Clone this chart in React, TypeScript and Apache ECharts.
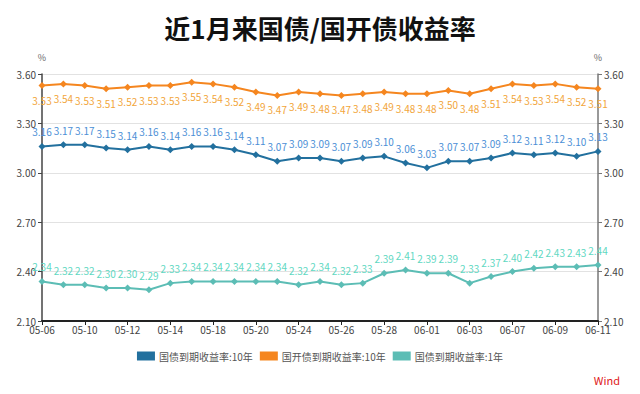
import React, { useEffect, useRef } from "react";
import * as echarts from "echarts";

const dates = [
  "05-06", "05-08", "05-10", "05-11", "05-12", "05-13", "05-14", "05-17", "05-18",
  "05-19", "05-20", "05-21", "05-24", "05-25", "05-26", "05-27", "05-28", "05-31",
  "06-01", "06-02", "06-03", "06-06", "06-07", "06-08", "06-09", "06-10", "06-11",
];
const gov10 = [3.16, 3.17, 3.17, 3.15, 3.14, 3.16, 3.14, 3.16, 3.16, 3.14, 3.11, 3.07, 3.09, 3.09, 3.07, 3.09, 3.10, 3.06, 3.03, 3.07, 3.07, 3.09, 3.12, 3.11, 3.12, 3.10, 3.13];
const cdb10 = [3.53, 3.54, 3.53, 3.51, 3.52, 3.53, 3.53, 3.55, 3.54, 3.52, 3.49, 3.47, 3.49, 3.48, 3.47, 3.48, 3.49, 3.48, 3.48, 3.50, 3.48, 3.51, 3.54, 3.53, 3.54, 3.52, 3.51];
const gov1 = [2.34, 2.32, 2.32, 2.30, 2.30, 2.29, 2.33, 2.34, 2.34, 2.34, 2.34, 2.34, 2.32, 2.34, 2.32, 2.33, 2.39, 2.41, 2.39, 2.39, 2.33, 2.37, 2.40, 2.42, 2.43, 2.43, 2.44];
const seriesNames = ["国债到期收益率:10年", "国开债到期收益率:10年", "国债到期收益率:1年"];

const FONT = "'Noto Sans CJK SC', 'Noto Sans', sans-serif";

export default function App() {
  const ref = useRef<HTMLDivElement>(null);
  useEffect(() => {
    document.body.style.margin = "0";
    if (!ref.current) return;
    const chart = echarts.init(ref.current, undefined, { renderer: "svg" });
    const yAxisCommon = (pos: "left" | "right") => ({
      type: "value",
      position: pos,
      min: 2.1,
      max: 3.6,
      interval: 0.3,
      name: "%",
      nameGap: 12,
      nameTextStyle: { color: "#666", fontSize: 9, fontFamily: FONT, align: "center" },
      axisLine: { show: true, lineStyle: { color: pos === "left" ? "#444" : "#777", width: 1.5 } },
      axisTick: { show: true, length: 4, lineStyle: { color: pos === "left" ? "#444" : "#777" } },
      axisLabel: {
        color: "#444",
        fontSize: 10,
        fontFamily: FONT,
        margin: 6,
        formatter: (v: number) => v.toFixed(2),
      },
      splitLine: { show: pos === "left", lineStyle: { color: "#e2e2e2", width: 1 } },
    });
    const mk = (name: string, data: number[], color: string, labelColor: string, pos: string) => ({
      name,
      type: "line",
      data,
      yAxisIndex: 0,
      symbol: "diamond",
      symbolSize: 7,
      lineStyle: { color, width: 2 },
      itemStyle: { color },
      label: {
        show: true,
        position: pos,
        distance: 6,
        color: labelColor,
        fontSize: 10,
        fontFamily: FONT,
        formatter: (p: any) => Number(p.value).toFixed(2),
      },
    });
    chart.setOption({
      animation: false,
      backgroundColor: "#fff",
      title: {
        text: "近1月来国债/国开债收益率",
        left: "center",
        top: 9,
        textStyle: { fontSize: 26, fontWeight: "bold", color: "#111", fontFamily: FONT },
      },
      grid: { left: 42, right: 42, top: 74, bottom: 73, containLabel: false },
      legend: {
        data: seriesNames,
        top: 346,
        left: "center",
        icon: "rect",
        itemWidth: 18,
        itemHeight: 9,
        itemGap: 7,
        textStyle: { color: "#555", fontSize: 10, fontFamily: FONT, padding: [0, 0, 0, -1] },
      },
      xAxis: {
        type: "category",
        data: dates,
        boundaryGap: false,
        axisLine: { lineStyle: { color: "#222", width: 2 } },
        axisTick: { show: true, interval: 1, length: 4, lineStyle: { color: "#222" } },
        axisLabel: { interval: 1, color: "#444", fontSize: 10, fontFamily: FONT, margin: 3 },
        splitLine: { show: false },
      },
      yAxis: [yAxisCommon("left"), yAxisCommon("right")],
      graphic: [
        {
          type: "text",
          right: 20,
          top: 374,
          style: { text: "Wind", fill: "#e02020", fontSize: 11, fontFamily: FONT },
        },
      ],
      series: [
        mk(seriesNames[0], gov10, "#22709e", "#4c8fd6", "top"),
        mk(seriesNames[1], cdb10, "#f5861f", "#f2a53a", "bottom"),
        mk(seriesNames[2], gov1, "#5cbdb5", "#5fd8c2", "top"),
      ],
    });
    return () => chart.dispose();
  }, []);
  return <div ref={ref} style={{ width: 640, height: 394 }} />;
}
